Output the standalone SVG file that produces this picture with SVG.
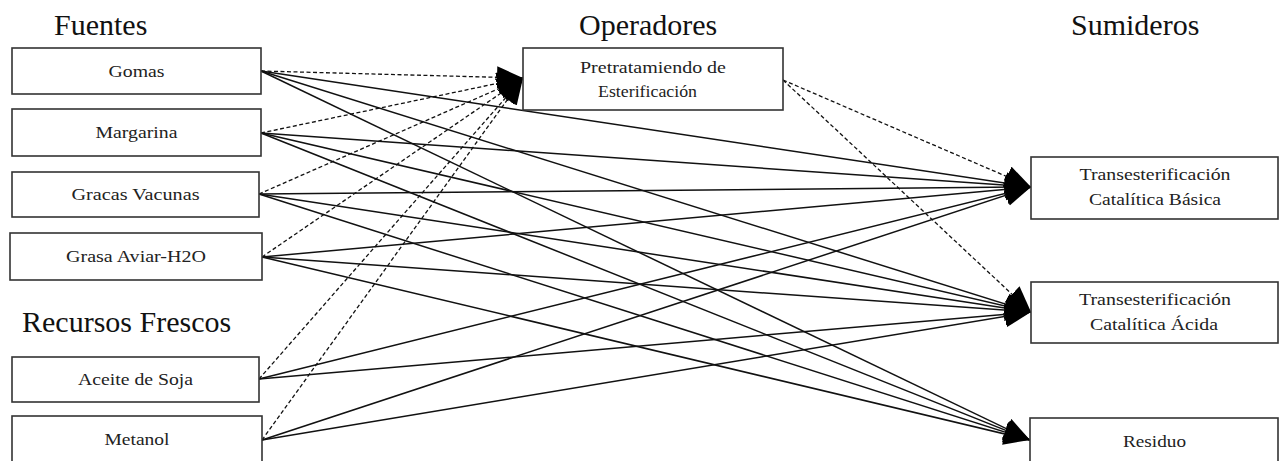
<svg xmlns="http://www.w3.org/2000/svg" width="1279" height="461" viewBox="0 0 1279 461">
<style>
.box{fill:#fff;stroke:#333;stroke-width:1.6}
.lbl{font-size:17px;fill:#222;text-anchor:middle}
.hd{font-size:30px;fill:#111}
.solid{stroke:#111;stroke-width:1.5;fill:none;marker-end:url(#ah)}
.dash{stroke:#111;stroke-width:1.3;fill:none;stroke-dasharray:4 2.5;marker-end:url(#ah)}
</style>
<defs>
<marker id="ah" markerUnits="userSpaceOnUse" markerWidth="28" markerHeight="24" refX="26" refY="11" orient="auto">
<path d="M0,0 L26,11 L0,22 z" fill="#000"/>
</marker>
</defs>
<rect width="1279" height="461" fill="#fff"/>
<g id="headings" font-family="Liberation Serif, Times New Roman, DejaVu Serif, serif">
<text class="hd" x="54" y="35">Fuentes</text>
<text class="hd" x="579" y="35">Operadores</text>
<text class="hd" x="1071" y="35">Sumideros</text>
<text class="hd" x="22" y="332">Recursos Frescos</text>
</g>
<g id="connectors">
<line class="dash" x1="261" y1="71" x2="523" y2="78"/>
<line class="dash" x1="261" y1="133" x2="523" y2="78"/>
<line class="dash" x1="259" y1="194" x2="523" y2="78"/>
<line class="dash" x1="262" y1="257" x2="523" y2="78"/>
<line class="dash" x1="259" y1="379" x2="523" y2="78"/>
<line class="dash" x1="262" y1="440" x2="523" y2="78"/>
<line class="dash" x1="783" y1="80" x2="1031" y2="187"/>
<line class="dash" x1="783" y1="80" x2="1031" y2="312"/>
<line class="solid" x1="261" y1="71" x2="1031" y2="187"/>
<line class="solid" x1="261" y1="133" x2="1031" y2="187"/>
<line class="solid" x1="259" y1="194" x2="1031" y2="187"/>
<line class="solid" x1="262" y1="257" x2="1031" y2="187"/>
<line class="solid" x1="259" y1="379" x2="1031" y2="187"/>
<line class="solid" x1="262" y1="440" x2="1031" y2="187"/>
<line class="solid" x1="261" y1="71" x2="1031" y2="312"/>
<line class="solid" x1="261" y1="133" x2="1031" y2="312"/>
<line class="solid" x1="259" y1="194" x2="1031" y2="312"/>
<line class="solid" x1="262" y1="257" x2="1031" y2="312"/>
<line class="solid" x1="259" y1="379" x2="1031" y2="312"/>
<line class="solid" x1="262" y1="440" x2="1031" y2="312"/>
<line class="solid" x1="261" y1="71" x2="1030" y2="440"/>
<line class="solid" x1="261" y1="133" x2="1030" y2="440"/>
<line class="solid" x1="259" y1="194" x2="1030" y2="440"/>
<line class="solid" x1="262" y1="257" x2="1030" y2="440"/>
</g>
<g font-family="Liberation Serif, Times New Roman, DejaVu Serif, serif">
<g id="gomas">
<rect class="box" x="12" y="48" width="249" height="46"/>
<text class="lbl" x="136.5" y="77" textLength="56" lengthAdjust="spacingAndGlyphs">Gomas</text>
</g>
<g id="margarina">
<rect class="box" x="12" y="109" width="249" height="47"/>
<text class="lbl" x="136.5" y="138" textLength="82" lengthAdjust="spacingAndGlyphs">Margarina</text>
</g>
<g id="gracas">
<rect class="box" x="12" y="172" width="247" height="45"/>
<text class="lbl" x="135.5" y="200" textLength="128" lengthAdjust="spacingAndGlyphs">Gracas Vacunas</text>
</g>
<g id="grasa">
<rect class="box" x="10" y="233" width="252" height="47"/>
<text class="lbl" x="136" y="262" textLength="140" lengthAdjust="spacingAndGlyphs">Grasa Aviar-H2O</text>
</g>
<g id="aceite">
<rect class="box" x="12" y="357" width="247" height="45"/>
<text class="lbl" x="135.5" y="385" textLength="115" lengthAdjust="spacingAndGlyphs">Aceite de Soja</text>
</g>
<g id="metanol">
<rect class="box" x="12" y="416" width="250" height="50"/>
<text class="lbl" x="137" y="445" textLength="65" lengthAdjust="spacingAndGlyphs">Metanol</text>
</g>
<g id="pretratamiento">
<rect class="box" x="523" y="48" width="260" height="62"/>
<text class="lbl" x="653" y="73" textLength="146" lengthAdjust="spacingAndGlyphs">Pretratamiendo de</text>
<text class="lbl" x="647.5" y="97" textLength="99" lengthAdjust="spacingAndGlyphs">Esterificación</text>
</g>
<g id="basica">
<rect class="box" x="1031" y="157" width="247" height="62"/>
<text class="lbl" x="1155" y="180" textLength="151" lengthAdjust="spacingAndGlyphs">Transesterificación</text>
<text class="lbl" x="1155" y="205" textLength="132" lengthAdjust="spacingAndGlyphs">Catalítica Básica</text>
</g>
<g id="acida">
<rect class="box" x="1031" y="282" width="247" height="61"/>
<text class="lbl" x="1155" y="305" textLength="152" lengthAdjust="spacingAndGlyphs">Transesterificación</text>
<text class="lbl" x="1154" y="330" textLength="128" lengthAdjust="spacingAndGlyphs">Catalítica Ácida</text>
</g>
<g id="residuo">
<rect class="box" x="1030" y="418" width="248" height="50"/>
<text class="lbl" x="1154.5" y="447" textLength="63" lengthAdjust="spacingAndGlyphs">Residuo</text>
</g>
</g>
</svg>
